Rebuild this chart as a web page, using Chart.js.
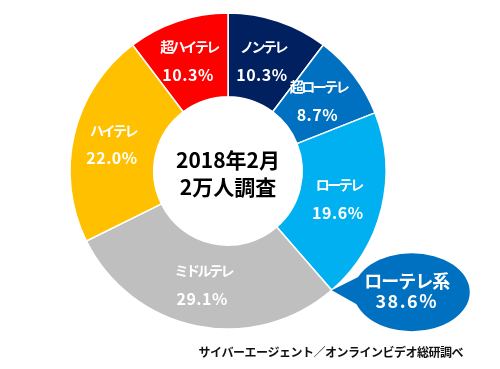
<!DOCTYPE html>
<html>
<head>
<meta charset="utf-8">
<script src="https://cdn.jsdelivr.net/npm/chart.js@4"></script>
<style>
  html, body { margin: 0; padding: 0; background: #fff; }
  #wrap { width: 500px; height: 369px; position: relative; }
</style>
</head>
<body>
<div id="wrap"><canvas id="tv_chart" width="500" height="369"></canvas></div>
<script>
// データ
var labels = ['ノンテレ', '超ローテレ', 'ローテレ', 'ミドルテレ', 'ハイテレ', '超ハイテレ'];
var values = [10.3, 8.7, 19.6, 29.1, 22.0, 10.3];
var colors = ['#002060', '#0070c0', '#00b0f0', '#bfbfbf', '#ffc000', '#ff0000'];
var centerLines = ['2018年2月', '2万人調査'];
var calloutLines = ['ローテレ系', '38.6%'];
var sourceText = 'サイバーエージェント／オンラインビデオ総研調べ';

var JP = '"Noto Sans CJK JP", "Noto Sans", sans-serif';

// ラベル・中央テキスト・吹き出し
var labelPlugin = {
  id: 'labelPlugin',
  afterDatasetsDraw: function(chart) {
    var ctx = chart.ctx;
    var meta = chart.getDatasetMeta(0);
    ctx.save();
    ctx.textAlign = 'center';
    ctx.textBaseline = 'middle';
    ctx.fillStyle = '#fff';
    meta.data.forEach(function(arc, i) {
      var p = arc.tooltipPosition();
      ctx.font = 'bold 14px ' + JP;
      ctx.letterSpacing = '-2.5px';
      ctx.fillText(labels[i], p.x - 2, p.y - 14);
      ctx.font = 'bold 16px ' + JP;
      ctx.letterSpacing = '0.5px';
      ctx.fillText(values[i].toFixed(1) + '%', p.x - 3, p.y + 14);
    });

    // 中央
    var a0 = meta.data[0];
    ctx.fillStyle = '#000';
    ctx.font = 'bold 21px ' + JP;
    ctx.letterSpacing = '0px';
    ctx.fillText(centerLines[0], a0.x, a0.y - 11);
    ctx.fillText(centerLines[1], a0.x, a0.y + 16);

    // 吹き出し (ローテレ系)
    var a2 = meta.data[2];
    var tx = a2.x + Math.cos(a2.endAngle) * a2.outerRadius;
    var ty = a2.y + Math.sin(a2.endAngle) * a2.outerRadius;
    var ex = tx + 80, ey = ty + 2;
    ctx.fillStyle = '#0070c0';
    ctx.beginPath();
    ctx.ellipse(ex, ey, 58, 39, 0, 0, Math.PI * 2);
    ctx.fill();
    ctx.beginPath();
    ctx.moveTo(tx, ty);
    ctx.lineTo(ex - 52, ey - 16);
    ctx.lineTo(ex - 48, ey + 16);
    ctx.closePath();
    ctx.fill();
    ctx.fillStyle = '#fff';
    ctx.font = 'bold 18px ' + JP;
    ctx.letterSpacing = '-1px';
    ctx.fillText(calloutLines[0], ex - 5, ey - 11);
    ctx.font = 'bold 18px ' + JP;
    ctx.letterSpacing = '1.5px';
    ctx.fillText(calloutLines[1], ex - 5, ey + 9);

    // 出典
    ctx.fillStyle = '#111';
    ctx.textAlign = 'right';
    ctx.font = 'bold 12px ' + JP;
    ctx.letterSpacing = '-0.5px';
    ctx.fillText(sourceText, 463, 352);
    ctx.restore();
  }
};

var ctx = document.getElementById('tv_chart').getContext('2d');
var chart = new Chart(ctx, {
  type: 'doughnut',
  data: {
    labels: labels,
    datasets: [{
      data: values,
      backgroundColor: colors,
      borderColor: '#fff',
      borderWidth: 1.5
    }]
  },
  options: {
    responsive: false,
    animation: false,
    radius: 158,
    cutout: 80,
    layout: { padding: { left: 0, right: 44, top: 0, bottom: 27 } },
    plugins: {
      legend: { display: false },
      tooltip: { enabled: false }
    }
  },
  plugins: [labelPlugin]
});
</script>
</body>
</html>
